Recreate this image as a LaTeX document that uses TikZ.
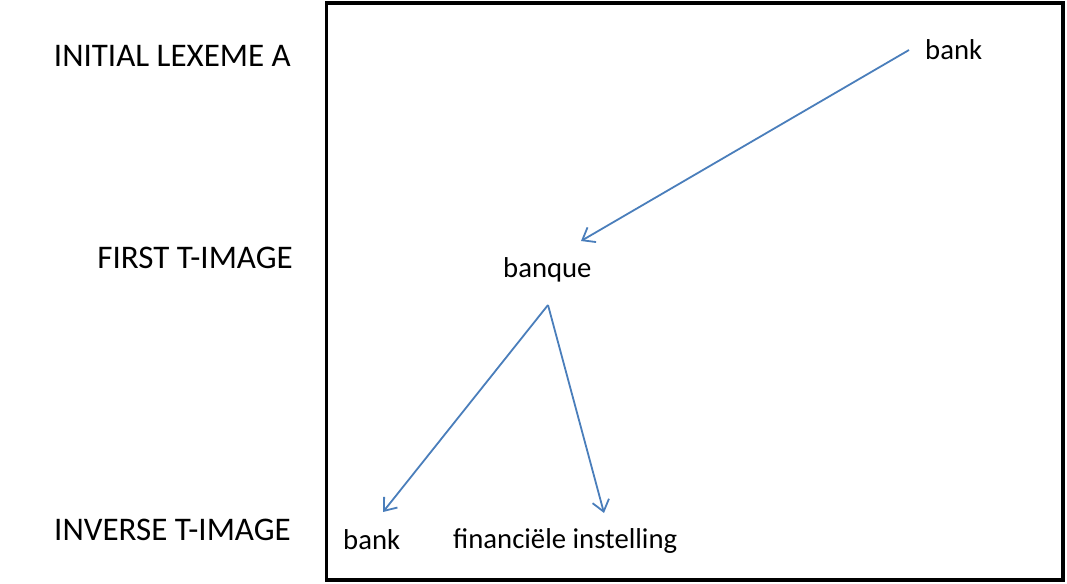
\documentclass[tikz,border=0pt]{standalone}
\usepackage{fontspec}
\setmainfont{Carlito}
\usetikzlibrary{arrows.meta}
\definecolor{arrowblue}{RGB}{74,126,187}
\tikzset{
  lvl/.style={anchor=east, inner sep=0pt, font=\fontsize{33}{38}\selectfont},
  word/.style={inner sep=0pt, font=\fontsize{28.7}{33}\selectfont},
  conn/.style={draw=arrowblue, line width=1.8pt, -{Straight Barb[length=11pt,width=17pt,line width=1.8pt]}},
}
\begin{document}
\begin{tikzpicture}[x=1pt,y=-1pt]
\useasboundingbox (0,0) rectangle (1067,583);
\draw[line width=3.5pt] (326.5,3) rectangle (1063,580);
\node[lvl] (l1) at (291,56) {INITIAL LEXEME A};
\node[lvl] (l2) at (293,258) {FIRST T-IMAGE};
\node[lvl] (l3) at (291,530) {INVERSE T-IMAGE};
\node[word, anchor=west] (bankA) at (925,50) {bank};
\node[word, anchor=west] (banque) at (503,270) {banque};
\node[word, anchor=west] (bankB) at (343,540) {bank};
\node[word, anchor=west] (fin) at (453,541) {financiële instelling};
\coordinate (s1) at (909,50);
\coordinate (e1) at (581,241);
\coordinate (s2) at (548,305);
\coordinate (e2) at (383,512);
\coordinate (e3) at (604,513);
\draw[conn] (s1) -- (e1);
\draw[conn] (s2) -- (e2);
\draw[conn] (s2) -- (e3);
\end{tikzpicture}
\end{document}
